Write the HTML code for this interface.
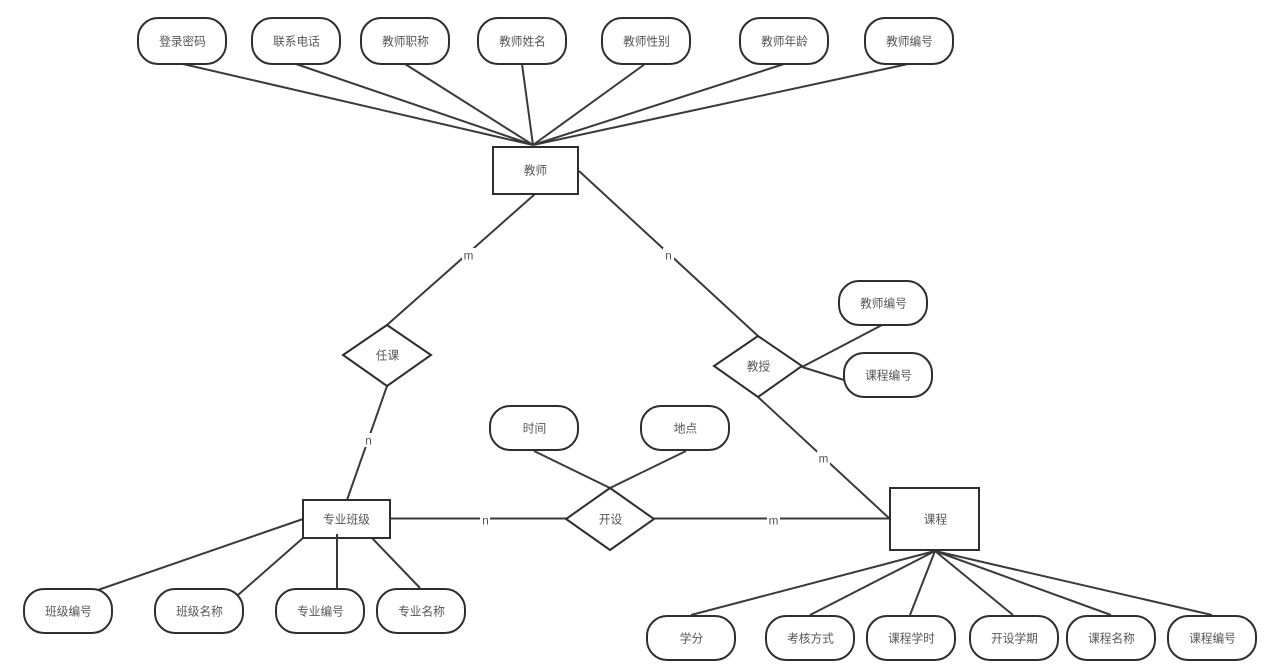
<!DOCTYPE html>
<html><head><meta charset="utf-8"><style>html,body{margin:0;padding:0;background:#fff;overflow:hidden}svg{display:block;filter:blur(.35px)}text{font-family:"Liberation Sans","Noto Sans CJK SC",sans-serif;font-size:11.7px;fill:#555;text-anchor:middle;dominant-baseline:central}</style></head><body>
<svg width="1269" height="672" viewBox="0 0 1269 672" xmlns="http://www.w3.org/2000/svg">
<g stroke="#3a3a3a" stroke-width="2" fill="none">
<path d="M183 64L533 145M296 64L533 145M405 64L533 145M522 64L533 145M645 64L533 145M784 64L533 145M908 64L533 145"/>
<path d="M535 194L387 325M387 386L347 500M579 171L758 336M758 397L890 519"/>
<path d="M802 367L882 325M802 367L844 380M534 451L610 488M686 451L610 488"/>
<path d="M390 518.5H566M654 518.5H890"/>
<path d="M303 519L98 590M303 538L238 595M372 538L420 588"/>
<path d="M935 551L691 615M935 551L810 615M935 551L910 615M935 551L1013 615M935 551L1111 615M935 551L1212 615"/>
</g>
<g stroke="#2e2e2e" stroke-width="2" fill="#fff">
<rect x="138" y="18" width="88" height="46" rx="20"/><rect x="252" y="18" width="88" height="46" rx="20"/><rect x="361" y="18" width="88" height="46" rx="20"/><rect x="478" y="18" width="88" height="46" rx="20"/><rect x="602" y="18" width="88" height="46" rx="20"/><rect x="740" y="18" width="88" height="46" rx="20"/><rect x="865" y="18" width="88" height="46" rx="20"/>
<rect x="839" y="281" width="88" height="44" rx="20"/><rect x="844" y="353" width="88" height="44" rx="20"/><rect x="490" y="406" width="88" height="44" rx="20"/><rect x="641" y="406" width="88" height="44" rx="20"/>
<rect x="24" y="589" width="88" height="44" rx="20"/><rect x="155" y="589" width="88" height="44" rx="20"/><rect x="276" y="589" width="88" height="44" rx="20"/><rect x="377" y="589" width="88" height="44" rx="20"/>
<rect x="647" y="616" width="88" height="44" rx="20"/><rect x="766" y="616" width="88" height="44" rx="20"/><rect x="867" y="616" width="88" height="44" rx="20"/><rect x="970" y="616" width="88" height="44" rx="20"/><rect x="1067" y="616" width="88" height="44" rx="20"/><rect x="1168" y="616" width="88" height="44" rx="20"/>
<rect x="493" y="147" width="85" height="47"/><rect x="303" y="500" width="87" height="38"/><rect x="890" y="488" width="89" height="62"/>
<path d="M387 325L431 355L387 386L343 355Z"/><path d="M758 336L802 366L758 397L714 366Z"/><path d="M610 488L654 519L610 550L566 519Z"/>
</g>
<path d="M337 534V588" stroke="#3a3a3a" stroke-width="2" fill="none"/>
<g fill="#fff" stroke="none"><rect x="462" y="248" width="13" height="14"/><rect x="663" y="248" width="11" height="14"/><rect x="363" y="433" width="10" height="14"/><rect x="817" y="451" width="13" height="14"/><rect x="480" y="512" width="10" height="14"/><rect x="767" y="512" width="13" height="14"/></g>
<g transform="translate(0.5 1)">
<text x="182" y="41">登录密码</text><text x="296" y="41">联系电话</text><text x="405" y="41">教师职称</text><text x="522" y="41">教师姓名</text><text x="646" y="41">教师性别</text><text x="784" y="41">教师年龄</text><text x="909" y="41">教师编号</text>
<text x="535" y="170">教师</text><text x="468" y="255">m</text><text x="668" y="255">n</text><text x="883" y="303">教师编号</text><text x="888" y="375">课程编号</text><text x="387" y="355">任课</text><text x="758" y="366">教授</text><text x="368" y="440">n</text><text x="534" y="428">时间</text><text x="685" y="428">地点</text><text x="823" y="458">m</text>
<text x="346" y="519">专业班级</text><text x="485" y="520">n</text><text x="610" y="519">开设</text><text x="773" y="520">m</text><text x="935" y="519">课程</text>
<text x="68" y="611">班级编号</text><text x="199" y="611">班级名称</text><text x="320" y="611">专业编号</text><text x="421" y="611">专业名称</text>
<text x="691" y="638">学分</text><text x="810" y="638">考核方式</text><text x="911" y="638">课程学时</text><text x="1014" y="638">开设学期</text><text x="1111" y="638">课程名称</text><text x="1212" y="638">课程编号</text>
</g>
</svg></body></html>
